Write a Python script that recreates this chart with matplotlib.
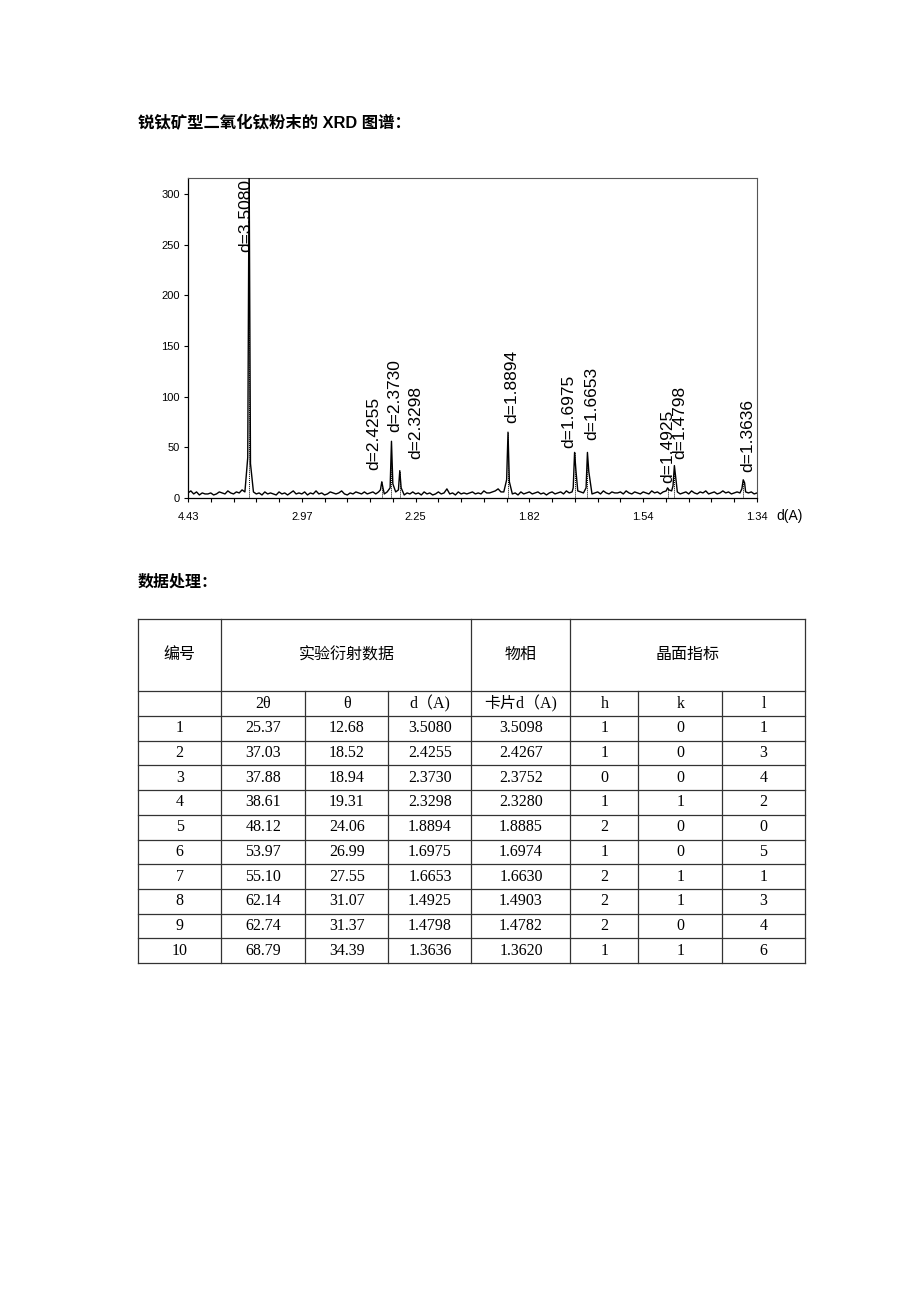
import numpy as np
import matplotlib
matplotlib.use("Agg")
import matplotlib.pyplot as plt
from matplotlib.ticker import MultipleLocator

plt.rcParams['font.family'] = ['Liberation Sans', 'Noto Sans CJK SC', 'DejaVu Sans']

# ---------------- data ----------------
title_text = "锐钛矿型二氧化钛粉末的 XRD 图谱："
section_text = "数据处理："

# XRD pattern: peak positions (2θ), apex heights, shoulder heights
peak_two_theta = [25.37, 37.03, 37.88, 38.61, 48.12, 53.97, 55.10, 62.14, 62.74, 68.79]
peak_height = [330, 16, 56, 27, 65, 45, 45, 10, 32, 18]
shoulder_left = [40, 8, 10, 8, 18, 10, 10, 7, 12, 9]
shoulder_right = [34, 9, 14, 10, 16, 27, 26, 8, 20, 15]

# background counts sampled every 0.25° from 20° to 70°
baseline = [
    5, 7, 4, 6, 3, 5, 4, 4, 5, 3, 4, 6, 5, 4, 7, 5, 4, 6, 5, 8,
    6, 5, 9, 6, 4, 5, 3, 6, 4, 5, 4, 3, 6, 4, 5, 3, 5, 7, 4, 5,
    4, 6, 3, 5, 4, 7, 4, 5, 3, 4, 6, 5, 4, 5, 7, 4, 3, 5, 4, 6,
    5, 4, 6, 4, 5, 6, 4, 6, 5, 4, 6, 5, 4, 6, 4, 5, 3, 5, 4, 6,
    4, 5, 3, 6, 4, 5, 3, 4, 6, 4, 5, 9, 4, 5, 3, 6, 4, 5, 4, 5,
    6, 4, 5, 4, 7, 5, 5, 6, 7, 9, 6, 6, 4, 5, 4, 5, 3, 6, 4, 5,
    6, 4, 5, 6, 4, 5, 3, 5, 6, 4, 5, 6, 4, 7, 5, 6, 5, 7, 6, 5,
    5, 6, 4, 5, 6, 4, 7, 5, 4, 6, 5, 5, 6, 4, 7, 5, 4, 6, 5, 4,
    6, 5, 4, 7, 5, 6, 4, 6, 5, 4, 7, 5, 6, 4, 5, 6, 4, 7, 5, 4,
    6, 5, 7, 4, 5, 6, 4, 5, 7, 5, 6, 4, 5, 6, 5, 4, 6, 5, 6, 4,
    5,
]

x_tick_pos = [20, 30, 40, 50, 60, 70]
x_tick_labels = ["4.43", "2.97", "2.25", "1.82", "1.54", "1.34"]
y_ticks = [0, 50, 100, 150, 200, 250, 300]

# table data
row_no = [1, 2, 3, 4, 5, 6, 7, 8, 9, 10]
two_theta = [25.37, 37.03, 37.88, 38.61, 48.12, 53.97, 55.10, 62.14, 62.74, 68.79]
theta = [12.68, 18.52, 18.94, 19.31, 24.06, 26.99, 27.55, 31.07, 31.37, 34.39]
d_exp = [3.5080, 2.4255, 2.3730, 2.3298, 1.8894, 1.6975, 1.6653, 1.4925, 1.4798, 1.3636]
d_card = [3.5098, 2.4267, 2.3752, 2.3280, 1.8885, 1.6974, 1.6630, 1.4903, 1.4782, 1.3620]
h_idx = [1, 1, 0, 1, 2, 1, 2, 2, 2, 1]
k_idx = [0, 0, 0, 1, 0, 0, 1, 1, 0, 1]
l_idx = [1, 3, 4, 2, 0, 5, 1, 3, 4, 6]
header1 = ["编号", "实验衍射数据", "物相", "晶面指标"]
header2 = ["", "2θ", "θ", "d（A)", "卡片d（A)", "h", "k", "l"]

# ---------------- layout ----------------
W, H = 920, 1302
label_x = [25.10, 36.34, 38.19, 40.04, 48.47, 53.44, 55.50, 62.13, 63.23, 69.17]
label_y = [243, 28, 65, 39, 74, 49, 57, 15, 39, 26]

fig = plt.figure(figsize=(W / 100, H / 100), dpi=100)
fig.patch.set_facecolor("white")

# overlay for free text and table (pixel coordinates)
ov = fig.add_axes([0, 0, 1, 1])
ov.set_xlim(0, W)
ov.set_ylim(H, 0)
ov.axis("off")

ax = fig.add_axes([188 / W, 1 - 498 / H, 569 / W, 320 / H])

# build profile
gx = 20 + 0.25 * np.arange(len(baseline))
gy = np.array(baseline, dtype=float)
pk = np.array(peak_two_theta)
mask = np.all(np.abs(gx[:, None] - pk[None, :]) > 0.15, axis=1)
xs = np.concatenate([gx[mask], pk - 0.12, pk, pk + 0.12])
ys = np.concatenate([gy[mask], shoulder_left, peak_height, shoulder_right])
order = np.argsort(xs)
ax.plot(xs[order], ys[order], color="black", lw=1.0, zorder=3)

# dotted markers under peaks
ax.vlines(pk, 0, np.minimum(peak_height, 316), colors="black",
          linestyles=(0, (1, 1)), lw=0.7, zorder=2)

for lx, ly, d in zip(label_x, label_y, d_exp):
    ax.text(lx, ly, f"d={d:.4f}", rotation=90, ha="center", va="bottom",
            fontsize=12.5, family=["Liberation Sans"], clip_on=False, zorder=4)

ax.set_xlim(20, 70)
ax.set_ylim(0, 316)
ax.set_xticks(x_tick_pos)
ax.set_xticklabels(x_tick_labels)
ax.xaxis.set_minor_locator(MultipleLocator(2))
ax.set_yticks(y_ticks)
ax.tick_params(axis="both", which="both", direction="out", length=3, width=0.8, labelsize=8)
ax.tick_params(axis="x", which="major", pad=7)
ax.tick_params(axis="y", which="major", pad=3)
for s in ["left", "bottom"]:
    ax.spines[s].set_linewidth(0.9)
for s in ["top", "right"]:
    ax.spines[s].set_linewidth(0.8)
    ax.spines[s].set_color("#555555")
ax.set_facecolor("white")

ov.text(790, 516, "d(A)", fontsize=10, ha="center", va="center", family=["Liberation Sans"])

# titles
ov.text(138, 123, title_text, fontsize=11.8, fontweight="bold", ha="left", va="center",
        family=["Liberation Sans", "Noto Sans CJK SC"])
ov.text(138, 582, section_text, fontsize=11.5, fontweight="bold", ha="left", va="center",
        family=["Noto Sans CJK SC", "Liberation Sans"])

# table
col_x = [138, 221.5, 305, 388.5, 471.5, 570.5, 638.5, 722, 805]
row_h = 24.7
row_y = [618.5, 691, 716] + [716 + row_h * (i + 1) for i in range(len(row_no))]
lc = "#333333"
lw = 0.9
for i, y in enumerate(row_y):
    ov.plot([col_x[0], col_x[-1]], [y, y], color=lc, lw=lw)
for j, x in enumerate(col_x):
    if j in (0, 1, 4, 5, 8):
        ov.plot([x, x], [row_y[0], row_y[-1]], color=lc, lw=lw)
    else:
        ov.plot([x, x], [row_y[1], row_y[-1]], color=lc, lw=lw)

cjk = ["Noto Sans CJK SC", "Liberation Serif"]
ser = ["Liberation Serif", "Noto Sans CJK SC"]
hy = (row_y[0] + row_y[1]) / 2
ov.text((col_x[0] + col_x[1]) / 2, hy, header1[0], fontsize=11.5, ha="center", va="center", family=cjk)
ov.text((col_x[1] + col_x[4]) / 2, hy, header1[1], fontsize=11.5, ha="center", va="center", family=cjk)
ov.text((col_x[4] + col_x[5]) / 2, hy, header1[2], fontsize=11.5, ha="center", va="center", family=cjk)
ov.text((col_x[5] + col_x[8]) / 2, hy, header1[3], fontsize=11.5, ha="center", va="center", family=cjk)

h2y = (row_y[1] + row_y[2]) / 2
for j, t in enumerate(header2):
    if t:
        ov.text((col_x[j] + col_x[j + 1]) / 2, h2y, t, fontsize=11.5, ha="center", va="center", family=ser)

for i in range(len(row_no)):
    cy = (row_y[2 + i] + row_y[3 + i]) / 2
    cells = [str(row_no[i]), f"{two_theta[i]:.2f}", f"{theta[i]:.2f}", f"{d_exp[i]:.4f}",
             f"{d_card[i]:.4f}", str(h_idx[i]), str(k_idx[i]), str(l_idx[i])]
    for j, t in enumerate(cells):
        ov.text((col_x[j] + col_x[j + 1]) / 2, cy, t, fontsize=11.5, ha="center", va="center", family=ser)

fig.savefig("out.png", dpi=100, facecolor="white")
